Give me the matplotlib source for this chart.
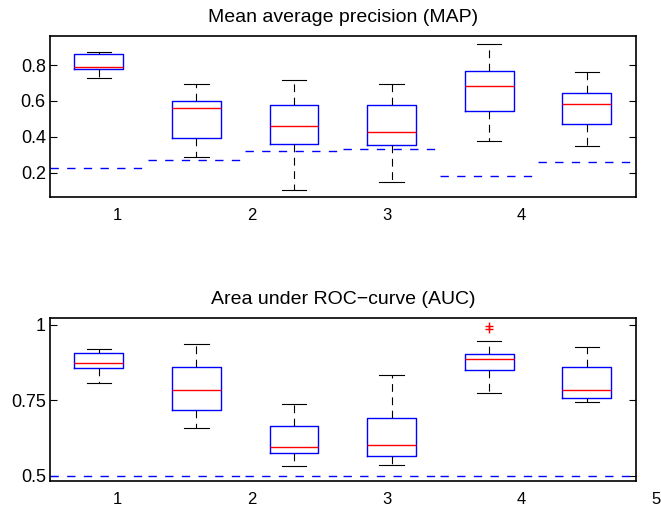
import matplotlib
matplotlib.use("Agg")
import matplotlib.pyplot as plt
import matplotlib.transforms as mtransforms

plt.rcParams["font.family"] = ["Liberation Sans", "DejaVu Sans"]

# MAP per method: whisker low, q1, median, q3, whisker high
map_lo = [0.726, 0.285, 0.103, 0.150, 0.375, 0.350]
map_q1 = [0.778, 0.391, 0.358, 0.356, 0.542, 0.473]
map_med = [0.791, 0.562, 0.458, 0.425, 0.683, 0.584]
map_q3 = [0.863, 0.601, 0.575, 0.579, 0.768, 0.644]
map_hi = [0.874, 0.696, 0.716, 0.696, 0.920, 0.763]
map_base = [0.228, 0.269, 0.323, 0.330, 0.180, 0.258]

# AUC per method
auc_lo = [0.806, 0.658, 0.532, 0.535, 0.775, 0.745]
auc_q1 = [0.858, 0.717, 0.575, 0.565, 0.849, 0.758]
auc_med = [0.874, 0.785, 0.595, 0.601, 0.885, 0.784]
auc_q3 = [0.907, 0.859, 0.663, 0.691, 0.902, 0.859]
auc_hi = [0.919, 0.937, 0.736, 0.832, 0.945, 0.926]
auc_out = [[], [], [], [], [0.994, 0.987], []]
auc_base = [0.5, 0.5, 0.5, 0.5, 0.5, 0.5]

xlabels = ["1", "2", "3", "4", "5"]


def draw(ax, lo, q1, med, q3, hi, base, title, yticks, yticklabels, ylim,
         outliers=None, nlab=5):
    stats = []
    for i in range(len(med)):
        stats.append({
            "whislo": lo[i], "q1": q1[i], "med": med[i], "q3": q3[i],
            "whishi": hi[i], "fliers": outliers[i] if outliers else [],
        })
    pos = list(range(1, len(med) + 1))
    ax.bxp(stats, positions=pos, widths=0.5, showfliers=True,
           boxprops=dict(color="#0000ff", linewidth=1.0),
           medianprops=dict(color="#ff0000", linewidth=1.0),
           whiskerprops=dict(color="#000000", linewidth=0.8, linestyle=(0, (7, 5))),
           capprops=dict(color="#000000", linewidth=0.8),
           flierprops=dict(marker="+", markeredgecolor="#ff0000", markersize=6,
                           linestyle="none"))
    for p, b in zip(pos, base):
        ax.plot([p - 0.5, p + 0.5], [b, b], color="#0000ff", linewidth=1.0,
                linestyle=(0, (6, 6)))
    ax.set_xlim(0.5, len(med) + 0.5)
    ax.set_ylim(*ylim)
    ax.set_yticks(yticks)
    ax.set_yticklabels(yticklabels)
    ax.set_xticks([])
    ax.tick_params(axis="y", direction="in", length=5, width=0.8,
                   right=True, labelsize=13, pad=3)
    for s in ax.spines.values():
        s.set_linewidth(1.2)
    ax.set_title(title, fontsize=14, pad=10)
    trans = mtransforms.blended_transform_factory(ax.transData, ax.transAxes)
    for k, lab in enumerate(xlabels[:nlab]):
        ax.text(1.19 + 1.38 * k, -0.07, lab, transform=trans, ha="center",
                va="top", fontsize=12, clip_on=False)


fig = plt.figure(figsize=(6.61, 5.08), dpi=100)
ax1 = fig.add_axes([0.0756, 0.612, 0.886, 0.317])
ax2 = fig.add_axes([0.0756, 0.053, 0.886, 0.321])

draw(ax1, map_lo, map_q1, map_med, map_q3, map_hi, map_base,
     "Mean average precision (MAP)", [0.2, 0.4, 0.6, 0.8],
     ["0.2", "0.4", "0.6", "0.8"], (0.063, 0.962), nlab=4)
draw(ax2, auc_lo, auc_q1, auc_med, auc_q3, auc_hi, auc_base,
     "Area under ROC\u2212curve (AUC)", [0.5, 0.75, 1.0],
     ["0.5", "0.75", "1"], (0.482, 1.022), outliers=auc_out, nlab=5)

fig.savefig("out.png", dpi=100)
